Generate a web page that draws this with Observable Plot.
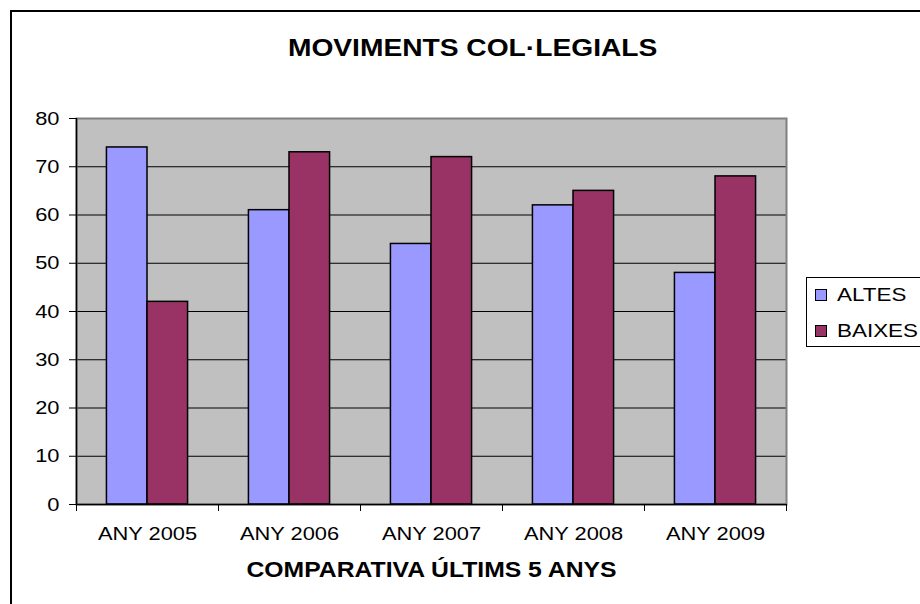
<!DOCTYPE html>
<html>
<head>
<meta charset="utf-8">
<script src="https://cdn.jsdelivr.net/npm/d3@7"></script>
<script src="https://cdn.jsdelivr.net/npm/@observablehq/plot@0.6"></script>
<style>
  html, body { margin: 0; padding: 0; background: #fff; }
  body { width: 920px; height: 604px; overflow: hidden; position: relative;
         font-family: "Liberation Sans", Arial, sans-serif; }
  #outer { position: absolute; left: 10px; top: 10px; width: 1000px; height: 1000px;
           border: 2px solid #000; box-sizing: border-box; }
  #chart { position: absolute; left: 0; top: 0; }
  #title { position: absolute; left: 0; width: 946px; top: 36px; text-align: center;
           font-weight: bold; font-size: 24.5px; line-height: 24.5px; color: #000; }
  #title span { display: inline-block; transform: scaleX(1.15); }
  #legend { position: absolute; left: 806px; top: 277px; width: 200px; height: 70px;
            border: 1px solid #000; box-sizing: border-box; background: #fff; }
  .item { position: absolute; left: 0; font-size: 19px; line-height: 19px; color: #000; }
  .sw { position: absolute; width: 12px; height: 12px; border: 1px solid #000; box-sizing: border-box; left: 8px; top: 4px; }
  .lab { position: absolute; left: 30px; top: 0; white-space: nowrap; transform: scaleX(1.18); transform-origin: left center; }
</style>
</head>
<body>
<div id="chart"></div>
<div id="outer"></div>
<div id="title"><span>MOVIMENTS COL·LEGIALS</span></div>
<div id="legend"></div>
<script>
// ---- data ----
const years = ["ANY 2005", "ANY 2006", "ANY 2007", "ANY 2008", "ANY 2009"];
const altes = [74, 61, 54, 62, 48];
const baixes = [42, 73, 72, 65, 68];
const seriesNames = ["ALTES", "BAIXES"];
const seriesColors = ["#9999FF", "#993366"];
const yTicks = [0, 10, 20, 30, 40, 50, 60, 70, 80];
const xTitle = "COMPARATIVA ÚLTIMS 5 ANYS";

// ---- long table ----
const GAP = 1.5; // Excel gap width (150%)
const barW = 1 / (seriesNames.length + GAP);
const rows = years.flatMap((year, i) => [
  {i, k: 0, year, series: seriesNames[0], value: altes[i]},
  {i, k: 1, year, series: seriesNames[1], value: baixes[i]}
]);
const boundaries = d3.range(years.length + 1);
const centers = years.map((_, i) => i + 0.5);
const FONT = "Liberation Sans, Arial, sans-serif";

const plot = Plot.plot({
  width: 920,
  height: 604,
  marginTop: 118,
  marginLeft: 76,
  marginRight: 134,
  marginBottom: 100,
  style: {fontFamily: FONT, fontSize: "19px", background: "transparent", color: "#000"},
  x: {type: "linear", domain: [0, years.length], axis: null},
  y: {domain: [0, 80], axis: null},
  color: {domain: seriesNames, range: seriesColors},
  marks: [
    Plot.frame({fill: "#c0c0c0"}),
    Plot.ruleY(yTicks.filter(d => d > 0), {stroke: "#000", strokeWidth: 1}),
    Plot.frame({stroke: "#808080", strokeWidth: 2}),
    Plot.rectY(rows, {
      x1: d => d.i + (GAP / 2 + d.k) * barW,
      x2: d => d.i + (GAP / 2 + d.k + 1) * barW,
      y1: 0,
      y2: "value",
      fill: "series",
      stroke: "#000",
      strokeWidth: 1.5
    }),
    Plot.ruleX([0], {stroke: "#000", strokeWidth: 1.5}),
    Plot.ruleY([0], {stroke: "#000", strokeWidth: 1.5}),
    Plot.axisY(yTicks, {tickSize: 7, tickPadding: 10, fontSize: 19, label: null, stroke: "#000"}),
    Plot.axisX(boundaries, {tickSize: 7, tickFormat: () => "", label: null, stroke: "#000"}),
    Plot.axisX(centers, {tickSize: 0, tickPadding: 22, fontSize: 19, label: null,
      tickFormat: d => years[Math.floor(d)]}),
    Plot.text([xTitle], {frameAnchor: "bottom", dy: 72, fontSize: 21.5, fontWeight: "bold", fill: "#000"})
  ]
});
document.getElementById("chart").appendChild(plot);

// horizontal stretch of text, like the original rendering
plot.querySelectorAll("text").forEach(t => {
  const len = t.getComputedTextLength();
  if (len > 0) {
    t.setAttribute("textLength", (len * 1.15).toFixed(1));
    t.setAttribute("lengthAdjust", "spacingAndGlyphs");
  }
});

// legend
const legend = document.getElementById("legend");
const legendTops = [6.7, 42.7];
seriesNames.forEach((name, j) => {
  const item = document.createElement("div");
  item.className = "item";
  item.style.top = legendTops[j] + "px";
  const sw = document.createElement("div");
  sw.className = "sw";
  sw.style.background = seriesColors[j];
  const lab = document.createElement("span");
  lab.className = "lab";
  lab.textContent = name;
  item.appendChild(sw);
  item.appendChild(lab);
  legend.appendChild(item);
});
</script>
</body>
</html>
